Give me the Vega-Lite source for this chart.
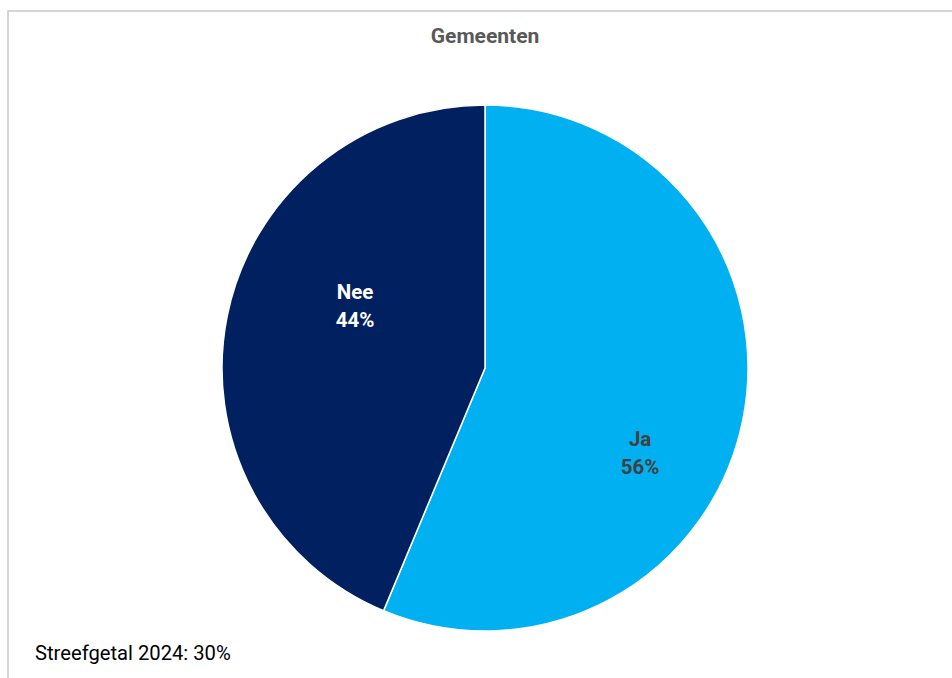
{
  "$schema": "https://vega.github.io/schema/vega-lite/v6.json",
  "width": 952,
  "height": 678,
  "autosize": {"type": "fit", "contains": "padding"},
  "padding": {"left": 8, "top": 11, "right": -10, "bottom": -47},
  "background": "white",
  "view": {"stroke": "#c8c8c8", "strokeWidth": 1.5},
  "config": {"view": {"stroke": "#c8c8c8", "strokeWidth": 1.5}},
  "title": {
    "text": "Gemeenten",
    "font": "Roboto",
    "fontSize": 21,
    "fontWeight": "bold",
    "color": "#595959",
    "anchor": "middle",
    "offset": -36
  },
  "data": {
    "values": [
      {"category": "Ja", "value": 56.3},
      {"category": "Nee", "value": 43.7}
    ]
  },
  "transform": [
    {"stack": "value", "groupby": [], "sort": [{"field": "category", "order": "ascending"}], "as": ["v0", "v1"]},
    {"calculate": "(datum.v0 + datum.v1) / 2", "as": "mid"},
    {"calculate": "datum.category + '\\n' + format(datum.value / 100, '.0%')", "as": "label"}
  ],
  "layer": [
    {
      "mark": {"type": "arc", "outerRadius": 263, "stroke": "white", "strokeWidth": 1.5},
      "encoding": {
        "theta": {"field": "v0", "type": "quantitative", "scale": {"domain": [0, 100]}},
        "theta2": {"field": "v1"},
        "color": {
          "field": "category",
          "type": "nominal",
          "scale": {"domain": ["Ja", "Nee"], "range": ["#00B0F0", "#002060"]},
          "legend": null
        }
      }
    },
    {
      "transform": [{"filter": "datum.category == 'Nee'"}],
      "mark": {
        "type": "text",
        "radius": 144,
        "thetaOffset": 0.248,
        "font": "Roboto",
        "fontSize": 20.5,
        "fontWeight": "bold",
        "lineBreak": "\n",
        "lineHeight": 28,
        "color": "white",
        "baseline": "middle",
        "dy": -13
      },
      "encoding": {
        "theta": {"field": "mid", "type": "quantitative", "scale": {"domain": [0, 100]}},
        "text": {"field": "label"}
      }
    },
    {
      "transform": [{"filter": "datum.category == 'Ja'"}],
      "mark": {
        "type": "text",
        "radius": 177,
        "thetaOffset": 0.305,
        "font": "Roboto",
        "fontSize": 20.5,
        "fontWeight": "bold",
        "lineBreak": "\n",
        "lineHeight": 28,
        "color": "#404040",
        "baseline": "middle",
        "dy": -13
      },
      "encoding": {
        "theta": {"field": "mid", "type": "quantitative", "scale": {"domain": [0, 100]}},
        "text": {"field": "label"}
      }
    },
    {
      "data": {"values": [{"note": "Streefgetal 2024: 30%"}]},
      "mark": {
        "type": "text",
        "x": 27,
        "y": 649,
        "align": "left",
        "baseline": "alphabetic",
        "font": "Roboto",
        "fontSize": 20.2,
        "color": "black"
      },
      "encoding": {"text": {"field": "note"}}
    }
  ]
}
